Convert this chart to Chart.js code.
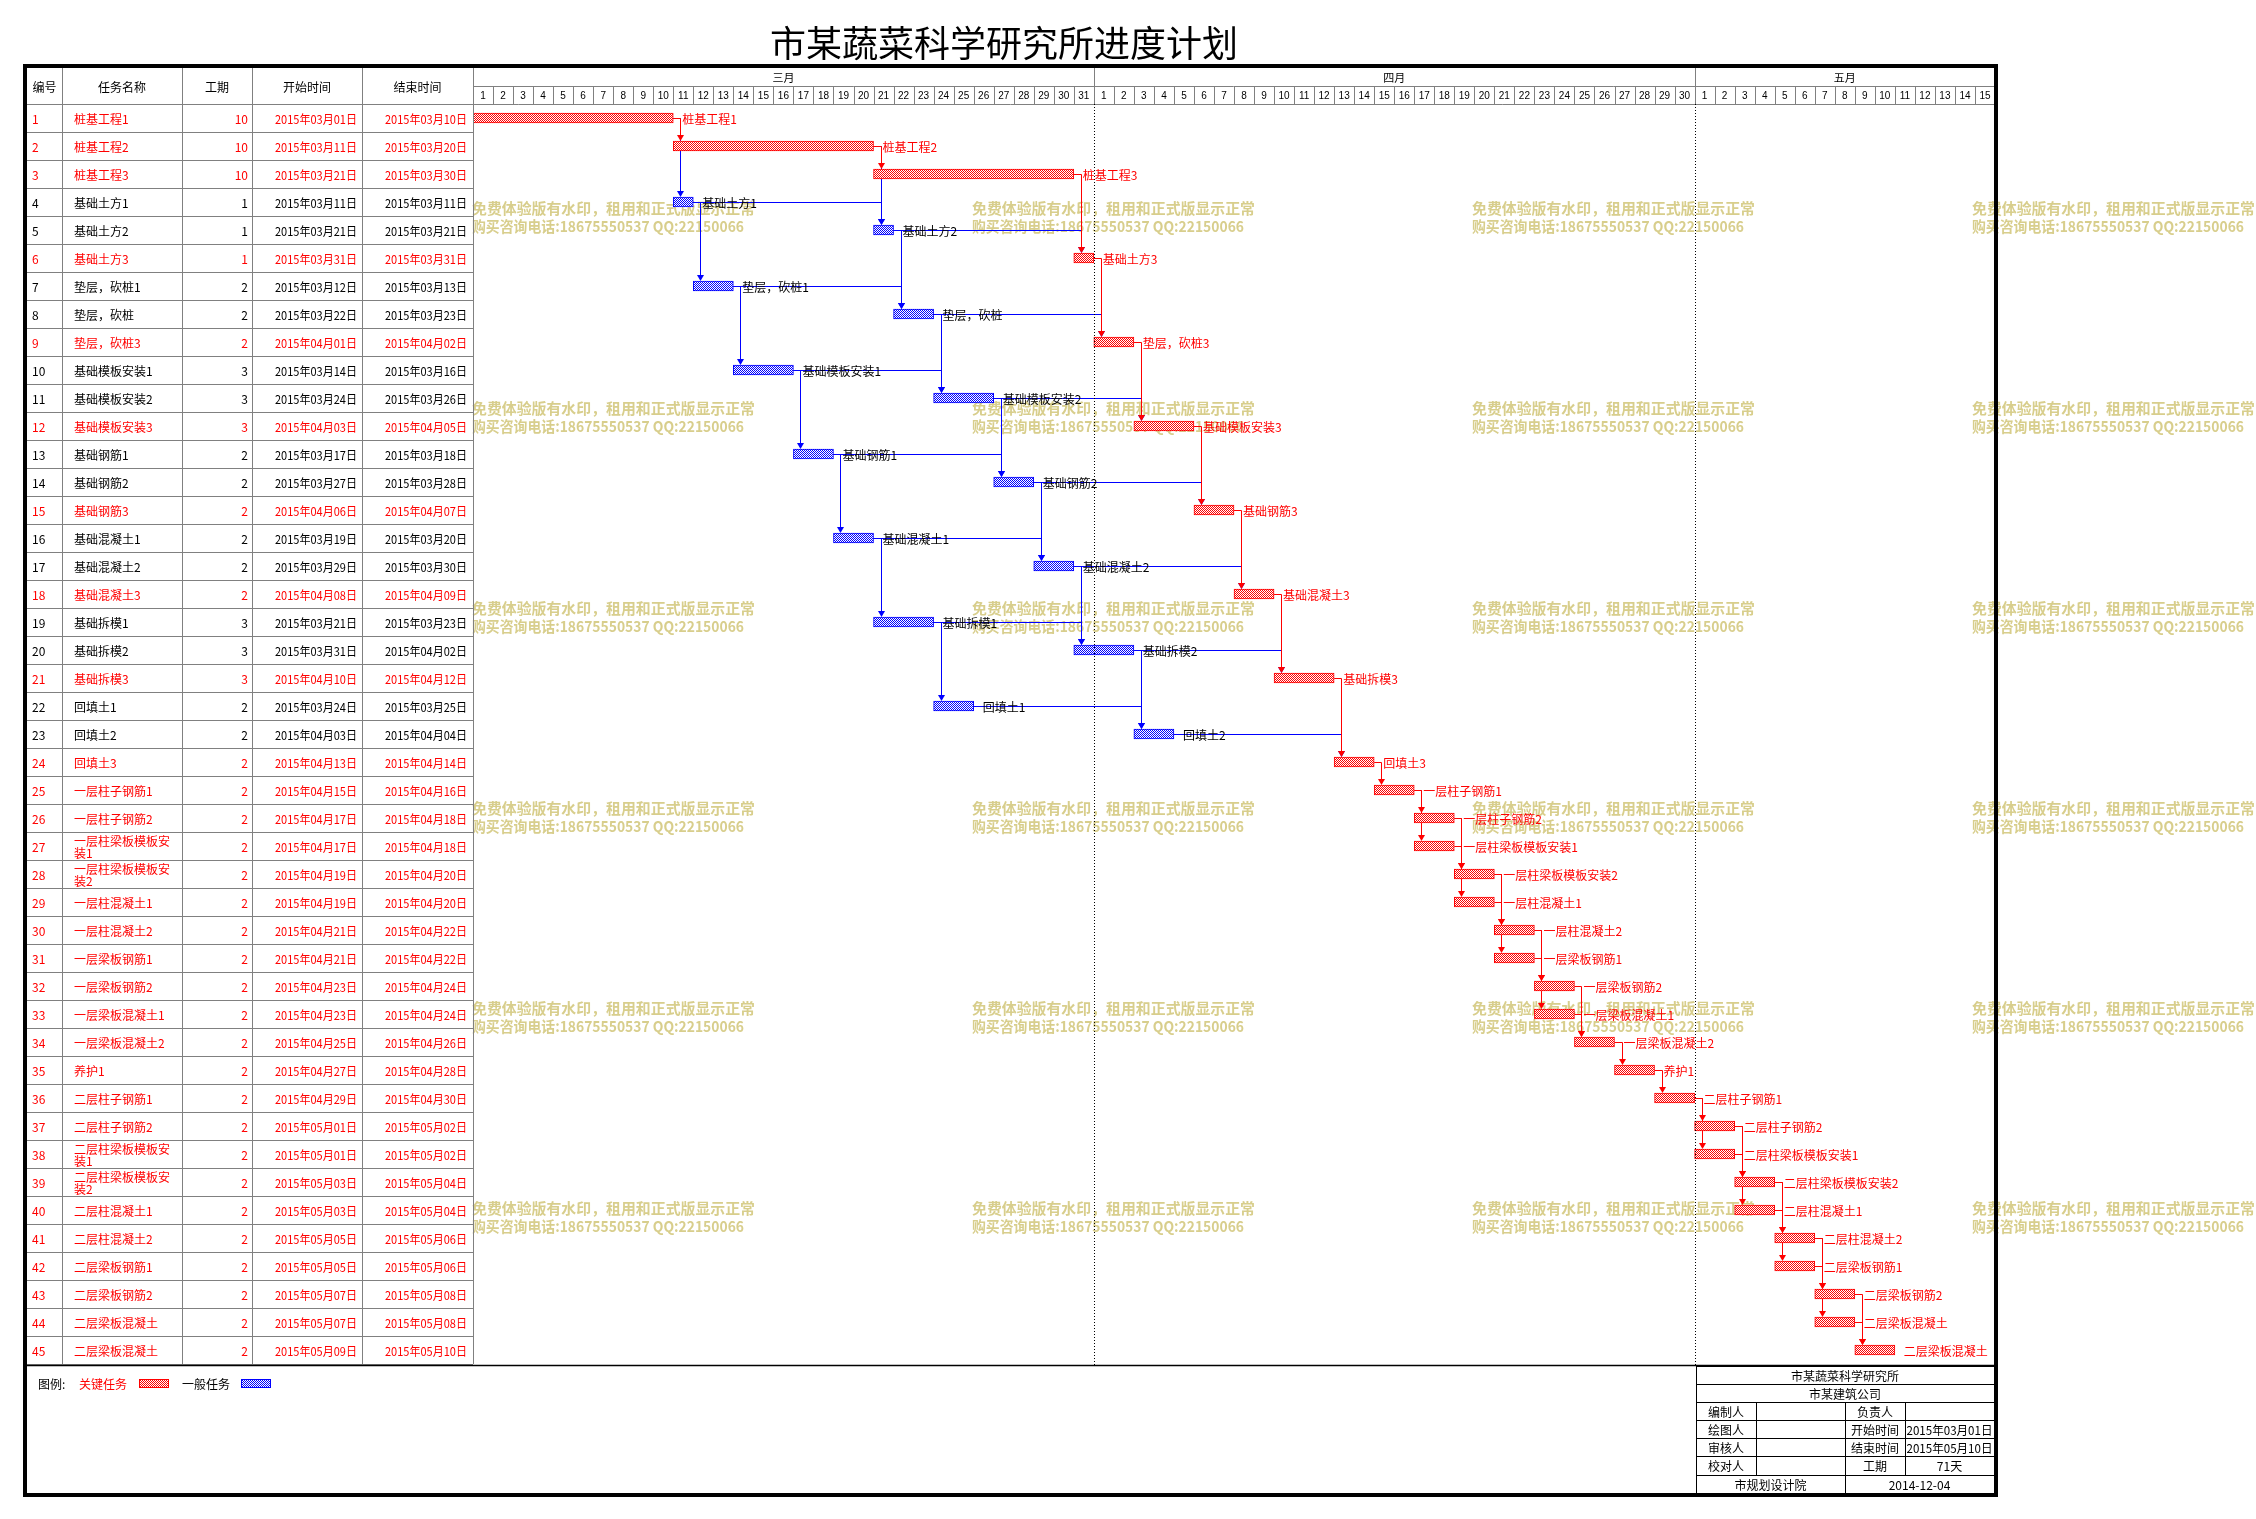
<!DOCTYPE html>
<html>
<head>
<meta charset="utf-8">
<title>市某蔬菜科学研究所进度计划</title>
<script src="https://cdn.jsdelivr.net/npm/chart.js@4.4.1/dist/chart.umd.min.js"></script>
<style>
    html, body { margin: 0; padding: 0; background: #fff; overflow: hidden; }
    canvas { display: block; }
</style>
</head>
<body>
<canvas id="gantt" width="2256" height="1519" style="width:2256px;height:1519px"></canvas>
<script>
/* =========================================================
   1. DATA
========================================================= */

const chartTitle = '市某蔬菜科学研究所进度计划';

const headers = ['编号', '任务名称', '工期', '开始时间', '结束时间'];

const monthNames = ['三月', '四月', '五月'];
const monthNumbers = [3, 4, 5];
const monthDays = [31, 30, 15];

const taskNames = [
    '桩基工程1', '桩基工程2', '桩基工程3',
    '基础土方1', '基础土方2', '基础土方3',
    '垫层，砍桩1', '垫层，砍桩', '垫层，砍桩3',
    '基础模板安装1', '基础模板安装2', '基础模板安装3',
    '基础钢筋1', '基础钢筋2', '基础钢筋3',
    '基础混凝土1', '基础混凝土2', '基础混凝土3',
    '基础拆模1', '基础拆模2', '基础拆模3',
    '回填土1', '回填土2', '回填土3',
    '一层柱子钢筋1', '一层柱子钢筋2', '一层柱梁板模板安装1', '一层柱梁板模板安装2',
    '一层柱混凝土1', '一层柱混凝土2', '一层梁板钢筋1', '一层梁板钢筋2',
    '一层梁板混凝土1', '一层梁板混凝土2', '养护1',
    '二层柱子钢筋1', '二层柱子钢筋2', '二层柱梁板模板安装1', '二层柱梁板模板安装2',
    '二层柱混凝土1', '二层柱混凝土2', '二层梁板钢筋1', '二层梁板钢筋2',
    '二层梁板混凝土', '二层梁板混凝土'
];

const durations = [
    10, 10, 10, 1, 1, 1, 2, 2, 2, 3, 3, 3, 2, 2, 2, 2, 2, 2, 3, 3, 3, 2, 2, 2,
    2, 2, 2, 2, 2, 2, 2, 2, 2, 2, 2, 2, 2, 2, 2, 2, 2, 2, 2, 2, 2
];

const startDates = [
    '2015年03月01日', '2015年03月11日', '2015年03月21日',
    '2015年03月11日', '2015年03月21日', '2015年03月31日',
    '2015年03月12日', '2015年03月22日', '2015年04月01日',
    '2015年03月14日', '2015年03月24日', '2015年04月03日',
    '2015年03月17日', '2015年03月27日', '2015年04月06日',
    '2015年03月19日', '2015年03月29日', '2015年04月08日',
    '2015年03月21日', '2015年03月31日', '2015年04月10日',
    '2015年03月24日', '2015年04月03日', '2015年04月13日',
    '2015年04月15日', '2015年04月17日', '2015年04月17日', '2015年04月19日',
    '2015年04月19日', '2015年04月21日', '2015年04月21日', '2015年04月23日',
    '2015年04月23日', '2015年04月25日', '2015年04月27日',
    '2015年04月29日', '2015年05月01日', '2015年05月01日', '2015年05月03日',
    '2015年05月03日', '2015年05月05日', '2015年05月05日', '2015年05月07日',
    '2015年05月07日', '2015年05月09日'
];

const endDates = [
    '2015年03月10日', '2015年03月20日', '2015年03月30日',
    '2015年03月11日', '2015年03月21日', '2015年03月31日',
    '2015年03月13日', '2015年03月23日', '2015年04月02日',
    '2015年03月16日', '2015年03月26日', '2015年04月05日',
    '2015年03月18日', '2015年03月28日', '2015年04月07日',
    '2015年03月20日', '2015年03月30日', '2015年04月09日',
    '2015年03月23日', '2015年04月02日', '2015年04月12日',
    '2015年03月25日', '2015年04月04日', '2015年04月14日',
    '2015年04月16日', '2015年04月18日', '2015年04月18日', '2015年04月20日',
    '2015年04月20日', '2015年04月22日', '2015年04月22日', '2015年04月24日',
    '2015年04月24日', '2015年04月26日', '2015年04月28日',
    '2015年04月30日', '2015年05月02日', '2015年05月02日', '2015年05月04日',
    '2015年05月04日', '2015年05月06日', '2015年05月06日', '2015年05月08日',
    '2015年05月08日', '2015年05月10日'
];

// 1 = 关键任务, 0 = 一般任务
const critical = [
    1, 1, 1, 0, 0, 1, 0, 0, 1, 0, 0, 1, 0, 0, 1, 0, 0, 1, 0, 0, 1, 0, 0, 1,
    1, 1, 1, 1, 1, 1, 1, 1, 1, 1, 1, 1, 1, 1, 1, 1, 1, 1, 1, 1, 1
];

// predecessor -> successor (task numbers)
const links = [
    [1, 2], [1, 4], [2, 3], [2, 5], [3, 6],
    [4, 5], [4, 7], [5, 6], [5, 8], [6, 9],
    [7, 8], [7, 10], [8, 9], [8, 11], [9, 12],
    [10, 11], [10, 13], [11, 12], [11, 14], [12, 15],
    [13, 14], [13, 16], [14, 15], [14, 17], [15, 18],
    [16, 17], [16, 19], [17, 18], [17, 20], [18, 21],
    [19, 20], [19, 22], [20, 21], [20, 23], [21, 24],
    [22, 23], [23, 24], [24, 25],
    [25, 26], [25, 27], [26, 28], [26, 29], [27, 28],
    [28, 30], [28, 31], [29, 30], [30, 32], [30, 33], [31, 32],
    [32, 34], [33, 34], [34, 35], [35, 36],
    [36, 37], [36, 38], [37, 39], [37, 40], [38, 39],
    [39, 41], [39, 42], [40, 41], [41, 43], [41, 44], [42, 43],
    [43, 45], [44, 45]
];

const legendTitle = '图例:';
const legendItems = ['关键任务', '一般任务'];

const watermarkLines = [
    '免费体验版有水印，租用和正式版显示正常',
    '购买咨询电话:18675550537 QQ:22150066'
];

const infoOwner = '市某蔬菜科学研究所';
const infoBuilder = '市某建筑公司';
const infoLeftLabels = ['编制人', '绘图人', '审核人', '校对人'];
const infoRightLabels = ['负责人', '开始时间', '结束时间', '工期'];
const infoRightValues = ['', '2015年03月01日', '2015年05月10日', '71天'];
const infoFooter = ['市规划设计院', '2014-12-04'];

/* =========================================================
   2. HELPERS
========================================================= */

const CJK = '"Noto Sans CJK SC", "Noto Sans", sans-serif';
const RED = '#ff0000';
const BLUE = '#0000ff';
const GRID = '#808080';

const monthOffset = {};
monthNumbers.reduce((acc, m, i) => { monthOffset[m] = acc; return acc + monthDays[i]; }, 0);
const totalDays = monthDays.reduce((a, b) => a + b, 0);

function dayIndex(str) {
    const m = parseInt(str.slice(5, 7), 10);
    const d = parseInt(str.slice(8, 10), 10);
    return monthOffset[m] + d - 1;
}

const startIdx = startDates.map(dayIndex);
const endIdx = endDates.map(s => dayIndex(s) + 1);
const spans = startIdx.map((s, i) => [s, endIdx[i]]);

function makePattern(ctx, color) {
    const c = document.createElement('canvas');
    c.width = 2;
    c.height = 2;
    const g = c.getContext('2d');
    g.fillStyle = '#ffffff';
    g.fillRect(0, 0, 2, 2);
    g.fillStyle = color;
    g.fillRect(0, 0, 1, 1);
    g.fillRect(1, 1, 1, 1);
    return ctx.createPattern(c, 'repeat');
}

function fitText(ctx, text, x, y, width, align) {
    const w = ctx.measureText(text).width;
    const k = Math.min(1, width / w);
    ctx.save();
    ctx.translate(x, y);
    ctx.scale(k, 1);
    ctx.textAlign = align;
    ctx.fillText(text, 0, 0);
    ctx.restore();
}

function hLine(ctx, x0, x1, y) {
    ctx.beginPath();
    ctx.moveTo(x0, y);
    ctx.lineTo(x1, y);
    ctx.stroke();
}

function vLine(ctx, x, y0, y1) {
    ctx.beginPath();
    ctx.moveTo(x, y0);
    ctx.lineTo(x, y1);
    ctx.stroke();
}

/* =========================================================
   3. LAYOUT
========================================================= */

const frame = { left: 27, top: 68, right: 1994, bottom: 1493 };
const tableCols = [27, 62, 182, 252, 362];
const headerMid = 86;
const footerLine = 1365.5;
const infoX = [1696, 1756, 1845, 1905, 1994];
const infoY = [1366, 1384, 1402, 1420, 1438, 1456, 1475, 1493];

/* =========================================================
   4. DRAWING
========================================================= */

function drawWatermarks(ctx) {
    ctx.save();
    ctx.fillStyle = '#d8ce8c';
    ctx.font = 'bold 15px ' + CJK;
    ctx.textBaseline = 'middle';
    [472, 972, 1472, 1972].forEach(x => {
        [208, 408, 608, 808, 1008, 1208].forEach(y => {
            fitText(ctx, watermarkLines[0], x, y, 283, 'left');
            fitText(ctx, watermarkLines[1], x, y + 18, 272, 'left');
        });
    });
    ctx.restore();
}

function drawLinks(chart) {
    const { ctx, scales: { x, y } } = chart;
    ctx.save();
    ctx.lineWidth = 1;
    [false, true].forEach(redPass => {
        const color = redPass ? RED : BLUE;
        ctx.strokeStyle = color;
        ctx.fillStyle = color;
        links.forEach(([p, s]) => {
            const isRed = !!(critical[p - 1] && critical[s - 1]);
            if (isRed !== redPass) return;
            const x0 = x.getPixelForValue(endIdx[p - 1]);
            const y0 = Math.round(y.getPixelForValue(p - 1)) + 0.5;
            const x1 = Math.round(x.getPixelForValue(startIdx[s - 1])) + 7.5;
            const yTop = y.getPixelForValue(s - 1) - 5;
            ctx.beginPath();
            ctx.moveTo(x0, y0);
            ctx.lineTo(x1, y0);
            ctx.lineTo(x1, yTop - 6);
            ctx.stroke();
            ctx.beginPath();
            ctx.moveTo(x1 - 3.5, yTop - 6);
            ctx.lineTo(x1 + 3.5, yTop - 6);
            ctx.lineTo(x1, yTop);
            ctx.closePath();
            ctx.fill();
        });
    });
    ctx.restore();
}

function drawBarLabels(chart) {
    const { ctx, scales: { x, y } } = chart;
    ctx.save();
    ctx.font = '12px ' + CJK;
    ctx.textBaseline = 'middle';
    ctx.textAlign = 'left';
    taskNames.forEach((name, i) => {
        ctx.fillStyle = critical[i] ? RED : '#000';
        ctx.fillText(name, x.getPixelForValue(endIdx[i]) + 9, y.getPixelForValue(i) + 1);
    });
    ctx.restore();
}

function drawTable(chart) {
    const { ctx, chartArea, scales: { y } } = chart;
    const rowH = (chartArea.bottom - chartArea.top) / taskNames.length;
    ctx.save();

    // grid
    ctx.strokeStyle = GRID;
    ctx.lineWidth = 1;
    for (let k = 0; k <= taskNames.length; k++) {
        const yy = Math.round(chartArea.top + k * rowH) + 0.5;
        hLine(ctx, frame.left, k === 0 ? frame.right : chartArea.left, yy);
    }
    tableCols.slice(1).concat([chartArea.left]).forEach(cx => {
        vLine(ctx, Math.round(cx) + 0.5, frame.top, chartArea.bottom);
    });

    // header
    ctx.fillStyle = '#000';
    ctx.font = '12px ' + CJK;
    ctx.textBaseline = 'middle';
    ctx.textAlign = 'center';
    const colEdges = tableCols.concat([chartArea.left]);
    headers.forEach((h, i) => {
        ctx.fillText(h, (colEdges[i] + colEdges[i + 1]) / 2, (frame.top + chartArea.top) / 2 + 1);
    });

    // rows
    taskNames.forEach((name, i) => {
        const cy = y.getPixelForValue(i) + 1;
        ctx.fillStyle = critical[i] ? RED : '#000';
        ctx.textAlign = 'left';
        ctx.fillText(String(i + 1), 32, cy);
        if (name.length > 8) {
            ctx.fillText(name.slice(0, 8), 74, cy - 6);
            ctx.fillText(name.slice(8), 74, cy + 6);
        } else {
            ctx.fillText(name, 74, cy);
        }
        ctx.textAlign = 'right';
        ctx.fillText(String(durations[i]), 248, cy);
        fitText(ctx, startDates[i], 357, cy, 82, 'right');
        fitText(ctx, endDates[i], 467, cy, 82, 'right');
    });
    ctx.restore();
}

function drawTimeHeader(chart) {
    const { ctx, chartArea, scales: { x } } = chart;
    ctx.save();
    ctx.strokeStyle = GRID;
    ctx.lineWidth = 1;
    hLine(ctx, chartArea.left, frame.right, headerMid + 0.5);

    const monthStarts = [];
    monthDays.reduce((acc, n) => { monthStarts.push(acc); return acc + n; }, 0);

    for (let d = 1; d < totalDays; d++) {
        const px = Math.round(x.getPixelForValue(d)) + 0.5;
        vLine(ctx, px, monthStarts.includes(d) ? frame.top : headerMid, chartArea.top);
    }

    ctx.fillStyle = '#000';
    ctx.textBaseline = 'middle';
    ctx.textAlign = 'center';
    ctx.font = '11px ' + CJK;
    monthNames.forEach((m, i) => {
        const a = x.getPixelForValue(monthStarts[i]);
        const b = x.getPixelForValue(monthStarts[i] + monthDays[i]);
        ctx.fillText(m, (a + b) / 2, (frame.top + headerMid) / 2 + 1);
    });
    ctx.font = '10px "Liberation Sans", sans-serif';
    monthNames.forEach((m, i) => {
        for (let d = 0; d < monthDays[i]; d++) {
            const v = monthStarts[i] + d;
            const cx = (x.getPixelForValue(v) + x.getPixelForValue(v + 1)) / 2;
            ctx.fillText(String(d + 1), cx, (headerMid + chartArea.top) / 2 + 1);
        }
    });

    // dotted month dividers
    ctx.strokeStyle = '#000';
    ctx.setLineDash([1, 2]);
    monthStarts.slice(1).forEach(v => {
        vLine(ctx, Math.round(x.getPixelForValue(v)) + 0.5, chartArea.top, footerLine);
    });
    ctx.restore();
}

function drawFrame(chart) {
    const { ctx } = chart;
    ctx.save();
    ctx.strokeStyle = '#000';
    ctx.lineWidth = 1.5;
    hLine(ctx, frame.left, frame.right, footerLine);
    ctx.lineWidth = 4;
    ctx.strokeRect(frame.left - 2, frame.top - 2,
        frame.right - frame.left + 4, frame.bottom - frame.top + 4);
    ctx.restore();
}

function drawLegend(chart) {
    const { ctx } = chart;
    ctx.save();
    ctx.font = '12px ' + CJK;
    ctx.textBaseline = 'middle';
    ctx.textAlign = 'left';
    const cy = 1384;
    ctx.fillStyle = '#000';
    ctx.fillText(legendTitle, 38, cy);
    ctx.fillStyle = RED;
    ctx.fillText(legendItems[0], 79, cy);
    ctx.fillStyle = '#000';
    ctx.fillText(legendItems[1], 182, cy);

    [[139, RED], [241, BLUE]].forEach(([sx, col]) => {
        ctx.fillStyle = makePattern(ctx, col);
        ctx.fillRect(sx, 1379, 30, 9);
        ctx.strokeStyle = col;
        ctx.lineWidth = 1;
        ctx.strokeRect(sx + 0.5, 1379.5, 29, 8);
    });
    ctx.restore();
}

function drawInfoBox(chart) {
    const { ctx } = chart;
    ctx.save();
    ctx.strokeStyle = '#000';
    ctx.lineWidth = 1;
    infoY.slice(0, -1).forEach(yy => hLine(ctx, infoX[0], infoX[4], yy + 0.5));
    vLine(ctx, infoX[0] + 0.5, infoY[0], infoY[7]);
    vLine(ctx, infoX[1] + 0.5, infoY[2], infoY[6]);
    vLine(ctx, infoX[2] + 0.5, infoY[2], infoY[7]);
    vLine(ctx, infoX[3] + 0.5, infoY[2], infoY[6]);

    ctx.fillStyle = '#000';
    ctx.font = '12px ' + CJK;
    ctx.textBaseline = 'middle';
    ctx.textAlign = 'center';
    const mid = r => (infoY[r] + infoY[r + 1]) / 2 + 1;
    const cx = (a, b) => (infoX[a] + infoX[b]) / 2;
    ctx.fillText(infoOwner, cx(0, 4), mid(0));
    ctx.fillText(infoBuilder, cx(0, 4), mid(1));
    infoLeftLabels.forEach((t, i) => {
        ctx.fillText(t, cx(0, 1), mid(i + 2));
        ctx.fillText(infoRightLabels[i], cx(2, 3), mid(i + 2));
        if (infoRightValues[i]) fitText(ctx, infoRightValues[i], cx(3, 4), mid(i + 2), 86, 'center');
    });
    ctx.fillText(infoFooter[0], cx(0, 2), mid(6));
    ctx.fillText(infoFooter[1], cx(2, 4), mid(6));
    ctx.restore();
}

function drawTitle(chart) {
    const { ctx } = chart;
    ctx.save();
    ctx.fillStyle = '#000';
    ctx.font = '36px ' + CJK;
    ctx.textAlign = 'center';
    ctx.textBaseline = 'middle';
    ctx.fillText(chartTitle, 1004, 43);
    ctx.restore();
}

const ganttPlugin = {
    id: 'ganttDecor',
    beforeDraw(chart) {
        const { ctx } = chart;
        ctx.save();
        ctx.fillStyle = '#fff';
        ctx.fillRect(0, 0, chart.width, chart.height);
        ctx.restore();
        drawWatermarks(ctx);
        drawLinks(chart);
    },
    afterDatasetsDraw(chart) {
        drawBarLabels(chart);
        drawTable(chart);
        drawTimeHeader(chart);
        drawFrame(chart);
        drawLegend(chart);
        drawInfoBox(chart);
        drawTitle(chart);
    }
};

/* =========================================================
   5. CHART
========================================================= */

const canvas = document.getElementById('gantt');
const ctx = canvas.getContext('2d');
const redFill = makePattern(ctx, RED);
const blueFill = makePattern(ctx, BLUE);

new Chart(ctx, {
    type: 'bar',
    data: {
        labels: taskNames,
        datasets: [{
            data: spans,
            backgroundColor: critical.map(c => c ? redFill : blueFill),
            borderColor: critical.map(c => c ? RED : BLUE),
            borderWidth: 1,
            borderSkipped: false,
            barThickness: 10
        }]
    },
    options: {
        indexAxis: 'y',
        responsive: false,
        devicePixelRatio: 1,
        animation: false,
        layout: { padding: { left: 473, right: 2256 - 1995, top: 104, bottom: 1519 - 1364 } },
        scales: {
            x: { type: 'linear', min: 0, max: totalDays, display: false },
            y: { type: 'category', offset: true, display: false }
        },
        plugins: {
            legend: { display: false },
            tooltip: { enabled: false }
        }
    },
    plugins: [ganttPlugin]
});
</script>
</body>
</html>
